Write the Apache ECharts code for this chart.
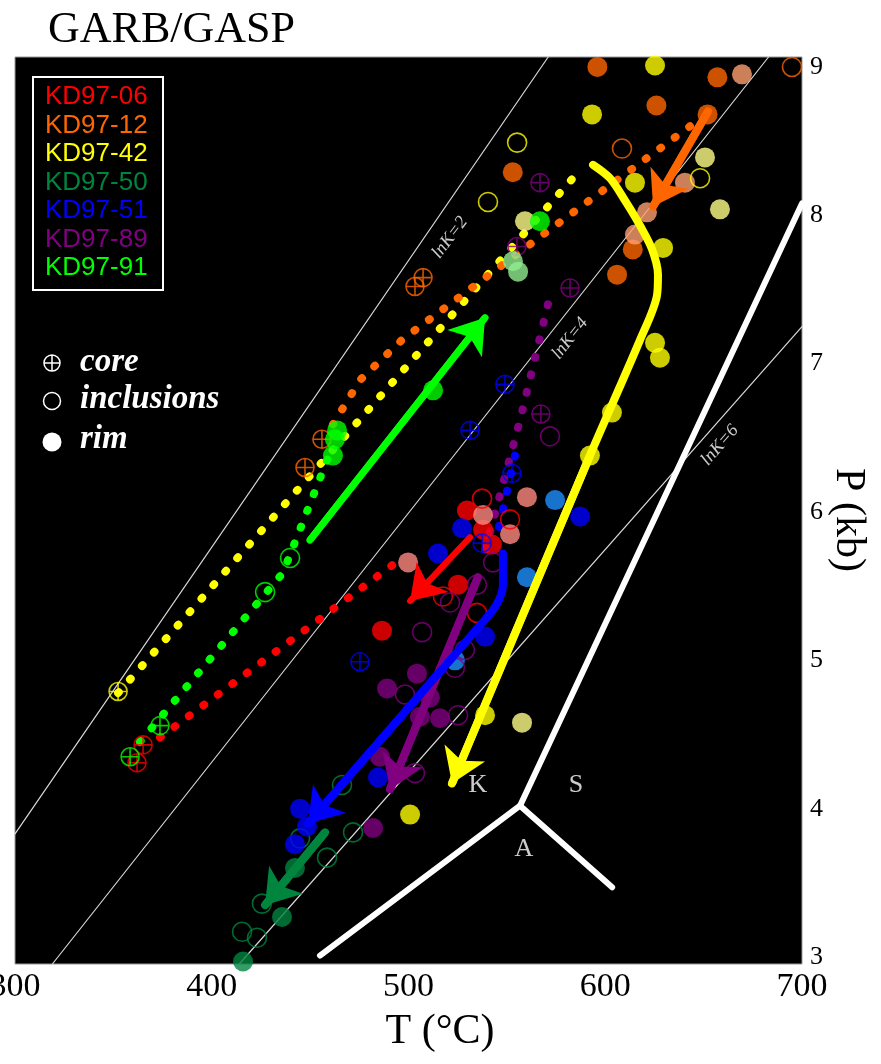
<!DOCTYPE html>
<html lang="en">
<head>
<meta charset="utf-8">
<title>GARB/GASP</title>
<script src="https://cdn.jsdelivr.net/npm/echarts@6.0.0/dist/echarts.min.js"></script>
<style>
    html, body { margin: 0; padding: 0; background: #fff; }
    #main { width: 881px; height: 1064px; }
</style>
</head>
<body>
<div id="main"></div>
<script>
    // axis ticks
    var tempTicks = [300, 400, 500, 600, 700];
    var pressTicks = [3, 4, 5, 6, 7, 8, 9];

    var sampleNames = ['KD97-06', 'KD97-12', 'KD97-42', 'KD97-50', 'KD97-51', 'KD97-89', 'KD97-91'];
    var sampleColors = ['#ff0000', '#ff6600', '#ffff00', '#00853f', '#0000ff', '#800080', '#00ff00'];

    // reference lines [T, P]
    var lnK2 = [[300, 3.83], [571, 9.067]];
    var lnK4 = [[319, 2.953], [683, 9.067]];
    var lnK6 = [[414, 2.953], [700, 7.25]];
    var kyaSil = [[556.7, 4.02], [700, 8.08]];
    var kyaAnd = [[556.7, 4.02], [455, 3.01]];
    var andSil = [[556.7, 4.02], [603.5, 3.47]];

    // KD97-06
    var rim06 = [[529.7, 6.01], [537.9, 5.88], [542.4, 5.78], [525.2, 5.51], [486.5, 5.20]];
    var rim06Pale = [[537.9, 5.98], [499.8, 5.66], [560.2, 6.10], [551.6, 5.85]];
    var incl06 = [[537.4, 6.09], [517.5, 5.43], [534.8, 5.32], [551.6, 5.95]];
    var core06 = [[365.1, 4.43], [362.0, 4.31]];
    // KD97-12
    var rim12 = [[596, 9.00], [626, 8.74], [657, 8.93], [652, 8.68], [553, 8.29], [614, 7.77], [606, 7.60]];
    var rim12Pale = [[669.5, 8.95], [640.5, 8.22], [621.2, 8.02], [615.1, 7.87]];
    var incl12 = [[694.9, 9.00], [608.5, 8.45]];
    var core12 = [[507.4, 7.58], [503.3, 7.52], [456.0, 6.49], [447.4, 6.30]];
    // KD97-42
    var rim42 = [[625.3, 9.01], [593.3, 8.68], [615.1, 8.22], [629.4, 7.78], [625.3, 7.14], [627.8, 7.04],
        [603.4, 6.67], [592.2, 6.38], [538.9, 4.63], [500.8, 3.96]];
    var rim42Pale = [[650.7, 8.39], [658.3, 8.04], [557.7, 4.58], [559.2, 7.96]];
    var incl42 = [[555.2, 8.49], [540.4, 8.09], [648.2, 8.25]];
    var core42 = [[352.4, 4.79]];
    // KD97-50
    var rim50 = [[415.9, 2.97], [435.7, 3.27], [442.3, 3.60]];
    var incl50 = [[466.2, 4.16], [471.8, 3.84], [458.6, 3.67], [444.9, 3.80], [425.5, 3.36], [415.4, 3.17], [423.0, 3.13]];
    // KD97-51
    var rim51 = [[527.2, 5.89], [515.0, 5.72], [538.9, 5.16], [587.2, 5.97], [444.9, 4.00], [448.4, 3.88], [442.3, 3.76], [484.5, 4.21]];
    var rim51Pale = [[574.5, 6.08], [560.2, 5.56], [523.6, 5.00]];
    var core51 = [[552.6, 6.26], [537.4, 5.79], [475.3, 4.99], [531.3, 6.55], [549.0, 6.86]];
    // KD97-89
    var rim89 = [[504.3, 4.91], [489.1, 4.81], [510.9, 4.75], [505.8, 4.62], [516.0, 4.61], [485.5, 4.35], [482.0, 3.87]];
    var incl89 = [[534.8, 5.51], [521.1, 5.39], [506.9, 5.19], [528.7, 5.07], [523.6, 4.95], [498.2, 4.77],
        [525.2, 4.63], [503.3, 4.24], [543.0, 5.66], [571.9, 6.51]];
    var core89 = [[566.8, 8.22], [555.1, 7.79], [582.1, 7.51], [567.3, 6.66]];
    // KD97-91
    var rim91 = [[512.5, 6.82], [462.6, 6.49], [461.6, 6.38], [463.7, 6.55], [566.8, 7.96]];
    var rim91Pale = [[553.1, 7.69], [555.7, 7.62]];
    var incl91 = [[439.8, 5.69], [427.1, 5.46]];
    var core91 = [[373.7, 4.56], [358.5, 4.35]];

    // dotted (modelled) paths
    var dotted42 = [[352.4, 4.78], [588.2, 8.32]];
    var dotted12 = [[643.1, 8.60], [569.4, 7.88], [496.7, 7.16], [475.4, 6.89], [461.6, 6.59]];
    var dotted91 = [[363.5, 4.45], [436.2, 5.59], [461.6, 6.45]];
    var dotted06 = [[373.7, 4.48], [494.7, 5.67]];
    var dotted89 = [[570.9, 7.40], [556.7, 6.62], [537.9, 5.69]];
    var dotted51 = [[554.1, 6.38], [545.0, 5.84]];

    // P-T path arrows
    var arrow12 = [[652.2, 8.70], [624.3, 8.06]];
    var arrow06 = [[531.3, 5.83], [500.8, 5.40]];
    var arrow91 = [[449.9, 5.81], [538.9, 7.31]];
    var arrow50 = [[457.6, 3.84], [427.1, 3.35]];
    var arrow89 = [[535.3, 5.56], [490.6, 4.13]];
    var arrow51 = [[548.0, 5.72], [548.0, 5.51], [544.5, 5.37], [535.3, 5.22], [523.6, 5.04], [448.9, 3.90]];
    var arrow42 = [[593.8, 8.34], [602.4, 8.25], [610.0, 8.10], [617.7, 7.93], [623.8, 7.77], [626.8, 7.60],
        [626.3, 7.46], [617.7, 7.16], [592.2, 6.38], [522.1, 4.17]];

    var fieldLabels = [['K', 535.3, 4.16], ['S', 585.1, 4.16], ['A', 558.7, 3.73]];
    var lnkLabels = [['lnK=2', 521.1, 7.85, 53], ['lnK=4', 582.1, 7.17, 52], ['lnK=6', 658.3, 6.45, 49]];

    var palePink = '#ff8a80', paleOrange = '#ffa070', paleYellow = '#ffff88', lightBlue = '#1e90ff', paleGreen = '#90ee90';
    var corePath = 'path://M10,0A10,10,0,1,1,-10,0A10,10,0,1,1,10,0ZM-10,0L10,0M0,-10L0,10';

    function pts(data, kind, color) {
        var s = {type: 'scatter', data: data, silent: true, animation: false, z: 4, clip: false};
        if (kind === 'rim') {
            s.symbol = 'circle'; s.symbolSize = 20;
            s.itemStyle = {color: color};
        } else if (kind === 'incl') {
            s.symbol = 'circle'; s.symbolSize = 19;
            s.itemStyle = {color: 'rgba(0,0,0,0)', borderColor: color, borderWidth: 1.6};
        } else {
            s.symbol = corePath; s.symbolSize = 18;
            s.itemStyle = {color: 'rgba(0,0,0,0)', borderColor: color, borderWidth: 1.6};
        }
        return s;
    }

    function thinLine(data, color, width, z) {
        return {type: 'line', data: data, symbol: 'none', silent: true, animation: false, z: z,
            lineStyle: {color: color, width: width, cap: 'round', join: 'round'}};
    }

    function dotted(data, color) {
        return {type: 'line', data: data, symbol: 'none', silent: true, animation: false, z: 3,
            lineStyle: {color: color, width: 8, type: [1, 17], cap: 'round'}};
    }

    function arrow(data, color, width, smooth) {
        var n = data.length;
        return [
            {type: 'line', data: data, symbol: 'none', smooth: smooth || false, silent: true, animation: false, z: 5,
                lineStyle: {color: color, width: width, cap: 'round', join: 'round'}},
            {type: 'lines', coordinateSystem: 'cartesian2d', silent: true, animation: false, z: 5,
                symbol: ['none', 'arrow'], symbolSize: 33,
                lineStyle: {color: color, width: width, opacity: 1, curveness: 0},
                data: [{coords: [data[n - 2], data[n - 1]]}]}
        ];
    }

    var series = [
        thinLine(lnK2, '#d8d8d8', 1.2, 1),
        thinLine(lnK4, '#d8d8d8', 1.2, 1),
        thinLine(lnK6, '#d8d8d8', 1.2, 1),
        thinLine(kyaSil, '#ffffff', 6, 2),
        thinLine(kyaAnd, '#ffffff', 6, 2),
        thinLine(andSil, '#ffffff', 6, 2),
        dotted(dotted42, sampleColors[2]),
        dotted(dotted12, sampleColors[1]),
        dotted(dotted91, sampleColors[6]),
        dotted(dotted06, sampleColors[0]),
        dotted(dotted89, sampleColors[5]),
        dotted(dotted51, sampleColors[4]),
        pts(rim06, 'rim', sampleColors[0]), pts(rim06Pale, 'rim', palePink),
        pts(incl06, 'incl', sampleColors[0]), pts(core06, 'core', sampleColors[0]),
        pts(rim12, 'rim', sampleColors[1]), pts(rim12Pale, 'rim', paleOrange),
        pts(incl12, 'incl', sampleColors[1]), pts(core12, 'core', sampleColors[1]),
        pts(rim42, 'rim', sampleColors[2]), pts(rim42Pale, 'rim', paleYellow),
        pts(incl42, 'incl', sampleColors[2]), pts(core42, 'core', sampleColors[2]),
        pts(rim50, 'rim', sampleColors[3]), pts(incl50, 'incl', sampleColors[3]),
        pts(rim51, 'rim', sampleColors[4]), pts(rim51Pale, 'rim', lightBlue), pts(core51, 'core', sampleColors[4]),
        pts(rim89, 'rim', sampleColors[5]), pts(incl89, 'incl', sampleColors[5]), pts(core89, 'core', sampleColors[5]),
        pts(rim91, 'rim', sampleColors[6]), pts(rim91Pale, 'rim', paleGreen),
        pts(incl91, 'incl', sampleColors[6]), pts(core91, 'core', sampleColors[6])
    ];
    series = series.concat(
        arrow(arrow12, sampleColors[1], 8),
        arrow(arrow06, sampleColors[0], 6),
        arrow(arrow91, sampleColors[6], 7),
        arrow(arrow50, sampleColors[3], 8),
        arrow(arrow89, sampleColors[5], 8),
        arrow(arrow51, sampleColors[4], 8, 0.3),
        arrow(arrow42, sampleColors[2], 8, 0.3)
    );
    series.push({
        type: 'scatter', silent: true, animation: false, z: 6, symbolSize: 1,
        itemStyle: {color: 'rgba(0,0,0,0)'},
        label: {show: true, position: 'inside', formatter: '{b}', color: '#fff', fontSize: 26, fontFamily: 'Liberation Serif'},
        data: fieldLabels.map(function (d) { return {name: d[0], value: [d[1], d[2]]}; })
    });
    series.push({
        type: 'scatter', silent: true, animation: false, z: 6, symbolSize: 1,
        itemStyle: {color: 'rgba(0,0,0,0)'},
        label: {show: true, position: 'inside', formatter: '{b}', color: '#fff', fontSize: 18,
            fontStyle: 'italic', fontFamily: 'Liberation Serif'},
        data: lnkLabels.map(function (d) { return {name: d[0], value: [d[1], d[2]], label: {rotate: d[3]}}; })
    });

    var legendText = sampleNames.map(function (name, i) {
        return {type: 'text', x: 45, y: 97 + i * 28.5,
            style: {text: name, fill: sampleColors[i], font: '26px "Liberation Sans"', textVerticalAlign: 'middle'}};
    });
    var symbolKey = [
        {type: 'circle', shape: {cx: 52, cy: 363, r: 8}, style: {fill: 'none', stroke: '#fff', lineWidth: 1.5}},
        {type: 'line', shape: {x1: 44, y1: 363, x2: 60, y2: 363}, style: {stroke: '#fff', lineWidth: 1.5}},
        {type: 'line', shape: {x1: 52, y1: 355, x2: 52, y2: 371}, style: {stroke: '#fff', lineWidth: 1.5}},
        {type: 'circle', shape: {cx: 52, cy: 401, r: 8.5}, style: {fill: 'none', stroke: '#fff', lineWidth: 1.5}},
        {type: 'circle', shape: {cx: 52, cy: 442, r: 9.5}, style: {fill: '#fff'}},
        {type: 'text', x: 80, y: 362, style: {text: 'core', fill: '#fff', font: 'italic bold 33px "Liberation Serif"', textVerticalAlign: 'middle'}},
        {type: 'text', x: 80, y: 399, style: {text: 'inclusions', fill: '#fff', font: 'italic bold 33px "Liberation Serif"', textVerticalAlign: 'middle'}},
        {type: 'text', x: 80, y: 439, style: {text: 'rim', fill: '#fff', font: 'italic bold 33px "Liberation Serif"', textVerticalAlign: 'middle'}}
    ];

    var myChart = echarts.init(document.getElementById('main'));
    myChart.setOption({
        backgroundColor: '#fff',
        animation: false,
        grid: {left: 15, right: 79, top: 57, bottom: 100, outerBoundsMode: 'none', containLabel: false,
            show: true, backgroundColor: '#000', borderColor: '#999', borderWidth: 1},
        xAxis: {
            type: 'value', min: 300, max: 700, interval: 100,
            axisLine: {show: false}, axisTick: {show: false}, splitLine: {show: false},
            axisLabel: {color: '#000', fontSize: 34, fontFamily: 'Liberation Serif', margin: 6}
        },
        yAxis: {
            type: 'value', min: 2.953, max: 9.067, position: 'right',
            axisLine: {show: false}, axisTick: {show: false}, splitLine: {show: false},
            axisLabel: {customValues: pressTicks, color: '#000', fontSize: 26, fontFamily: 'Liberation Serif', margin: 8}
        },
        graphic: [
            {type: 'text', x: 48, y: 30, style: {text: 'GARB/GASP', fill: '#000', font: '44px "Liberation Serif"', textVerticalAlign: 'middle'}},
            {type: 'text', x: 440, y: 1032, style: {text: 'T (°C)', fill: '#000', font: '42px "Liberation Serif"', textAlign: 'center', textVerticalAlign: 'middle'}},
            {type: 'text', x: 848, y: 520, rotation: -Math.PI / 2,
                style: {text: 'P (kb)', fill: '#000', font: '42px "Liberation Serif"', textAlign: 'center', textVerticalAlign: 'middle'}},
            {type: 'rect', shape: {x: 33, y: 77, width: 130, height: 213}, style: {fill: 'none', stroke: '#fff', lineWidth: 2}, z: 10}
        ].concat(legendText.map(function (t) { t.z = 10; return t; }), symbolKey.map(function (t) { t.z = 10; return t; })),
        series: series
    });
</script>
</body>
</html>
